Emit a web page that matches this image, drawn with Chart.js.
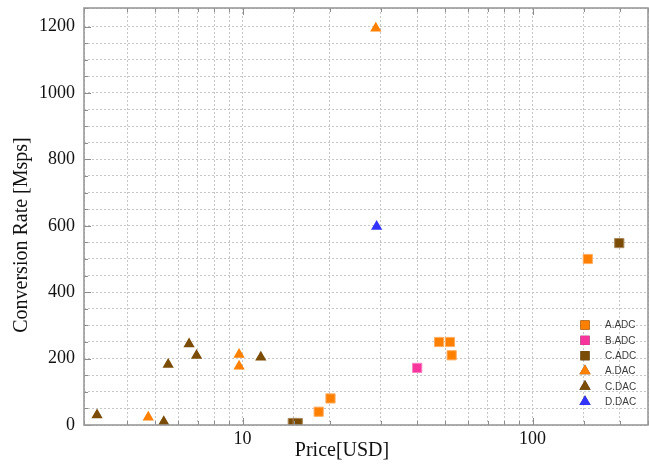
<!DOCTYPE html>
<html>
<head>
<meta charset="utf-8">
<title>Conversion rate vs price</title>
<script src="https://cdn.jsdelivr.net/npm/chart.js@4.4.1/dist/chart.umd.min.js"></script>
<style>
  html, body { margin: 0; padding: 0; background: #fff; }
  #plot { display: block; }
</style>
</head>
<body>
<canvas id="plot" width="649" height="466"></canvas>
<script>
// values (price in USD, rate in Msps)
const seriesNames = ['A.ADC', 'B.ADC', 'C.ADC', 'A.DAC', 'C.DAC', 'D.DAC'];

const aAdcPrice = [18.3, 20.1, 47.6, 51.9, 52.6, 155];
const aAdcRate  = [40, 80, 250, 250, 210, 500];

const bAdcPrice = [40];
const bAdcRate  = [172];

const cAdcPrice = [14.9, 15.5, 199];
const cAdcRate  = [6, 6, 548];

const aDacPrice = [4.73, 9.73, 9.73, 28.8];
const aDacRate  = [23, 212, 177, 1195];

const cDacPrice = [3.15, 5.35, 5.54, 6.54, 6.94, 11.56];
const cDacRate  = [30, 10, 182, 244, 209, 204];

const dDacPrice = [29.0];
const dDacRate  = [598];

const xTickLabels = [10, 100];
const yTickLabels = [0, 200, 400, 600, 800, 1000, 1200];

const colors = {
  orange: '#ff8000',
  pink: '#f7359c',
  brown: '#7a4c06',
  blue: '#3333ff'
};

function toPoints(xs, ys) {
  return xs.map((x, i) => ({ x: x, y: ys[i] }));
}

function series(label, xs, ys, color, border, style) {
  return {
    label: label,
    data: toPoints(xs, ys),
    pointStyle: style,
    pointRadius: 6.5,
    backgroundColor: color,
    borderColor: border,
    borderWidth: style === 'rect' ? 1 : 0,
    clip: 0
  };
}

const datasets = [
  series(seriesNames[0], aAdcPrice, aAdcRate, colors.orange, '#ffae63', 'rect'),
  series(seriesNames[1], bAdcPrice, bAdcRate, colors.pink, '#fb7fc2', 'rect'),
  series(seriesNames[2], cAdcPrice, cAdcRate, colors.brown, '#a9875a', 'rect'),
  series(seriesNames[3], aDacPrice, aDacRate, colors.orange, colors.orange, 'triangle'),
  series(seriesNames[4], cDacPrice, cDacRate, colors.brown, colors.brown, 'triangle'),
  series(seriesNames[5], dDacPrice, dDacRate, colors.blue, colors.blue, 'triangle')
];

// the log axis keeps some label room on the right; stretch the plot to the edge
const stretchPlugin = {
  id: 'stretch',
  afterLayout(chart) {
    const a = chart.chartArea;
    const x = chart.scales.x;
    const right = chart.width - 1;
    a.right = right;
    a.width = right - a.left;
    x.right = right;
    x.width = right - x.left;
    x.configure();
  }
};

// frame, inner tick marks, titles and the legend inside the plot
const framePlugin = {
  id: 'frame',
  afterDraw(chart) {
    const ctx = chart.ctx;
    const a = chart.chartArea;
    const xs = chart.scales.x, ys = chart.scales.y;
    ctx.save();
    ctx.strokeStyle = '#8c8c8c';
    ctx.lineWidth = 1;
    ctx.beginPath();
    xs.ticks.forEach(t => {
      const px = Math.round(xs.getPixelForValue(t.value)) + 0.5;
      const len = xTickLabels.includes(t.value) ? 7 : 4;
      ctx.moveTo(px, a.bottom); ctx.lineTo(px, a.bottom - len);
      ctx.moveTo(px, a.top); ctx.lineTo(px, a.top + len);
    });
    ys.ticks.forEach(t => {
      const py = Math.round(ys.getPixelForValue(t.value)) + 0.5;
      const len = yTickLabels.includes(t.value) ? 7 : 4;
      ctx.moveTo(a.left, py); ctx.lineTo(a.left + len, py);
    });
    ctx.stroke();
    ctx.strokeStyle = '#999';
    ctx.lineWidth = 1.6;
    ctx.strokeRect(a.left, a.top, a.right - a.left, a.bottom - a.top);

    // axis titles
    ctx.fillStyle = '#111';
    ctx.font = '20px "Liberation Serif"';
    ctx.textAlign = 'center';
    ctx.textBaseline = 'middle';
    ctx.fillText('Price[USD]', 342, 451);
    ctx.translate(22, 235);
    ctx.rotate(-Math.PI / 2);
    ctx.fillText('Conversion Rate [Msps]', 0, 0);
    ctx.restore();

    // legend
    ctx.save();
    ctx.font = '10px "Liberation Sans"';
    ctx.textAlign = 'left';
    ctx.textBaseline = 'middle';
    chart.data.datasets.forEach((ds, i) => {
      const y = 325 + i * 15.35;
      Chart.helpers.drawPoint(ctx, {
        pointStyle: ds.pointStyle,
        radius: 6.5,
        borderWidth: 0,
        rotation: 0
      }, 585, y);
      ctx.fillStyle = ds.backgroundColor;
      ctx.fill();
      ctx.fillStyle = '#3a3a3a';
      ctx.fillText(ds.label, 605, y + 0.5);
    });
    ctx.restore();
  }
};

const tickFont = { family: 'Liberation Serif', size: 18 };

function noEdgePadding(s) {
  s.paddingTop = 0;
  s.paddingBottom = 0;
  s.paddingLeft = 0;
  s.paddingRight = 0;
}

new Chart(document.getElementById('plot'), {
  type: 'scatter',
  data: { datasets: datasets },
  options: {
    responsive: false,
    animation: false,
    devicePixelRatio: 1,
    events: [],
    layout: { padding: { top: 8, right: 1, left: 0, bottom: 0 } },
    plugins: {
      legend: { display: false },
      tooltip: { enabled: false }
    },
    scales: {
      x: {
        type: 'logarithmic',
        min: 2.84,
        max: 250,
        grid: { color: '#c6c6c6', lineWidth: 1, drawTicks: true, tickLength: 3, tickColor: 'rgba(0,0,0,0)' },
        border: { display: false, dash: [2, 2] },
        ticks: {
          autoSkip: false,
          maxRotation: 0,
          padding: 0,
          color: '#111',
          font: tickFont,
          callback: (v) => xTickLabels.includes(v) ? String(v) : ''
        },
        afterFit: (s) => { s.height = 41; noEdgePadding(s); }
      },
      y: {
        min: 0,
        max: 1256,
        grid: { color: '#c6c6c6', lineWidth: 1, drawTicks: true, tickLength: 9, tickColor: 'rgba(0,0,0,0)' },
        border: { display: false, dash: [2, 2] },
        ticks: {
          stepSize: 50,
          autoSkip: false,
          padding: 0,
          color: '#111',
          font: tickFont,
          callback: (v) => yTickLabels.includes(v) ? String(v) : ''
        },
        afterFit: (s) => { s.width = 84; noEdgePadding(s); }
      }
    }
  },
  plugins: [stretchPlugin, framePlugin]
});
</script>
</body>
</html>
